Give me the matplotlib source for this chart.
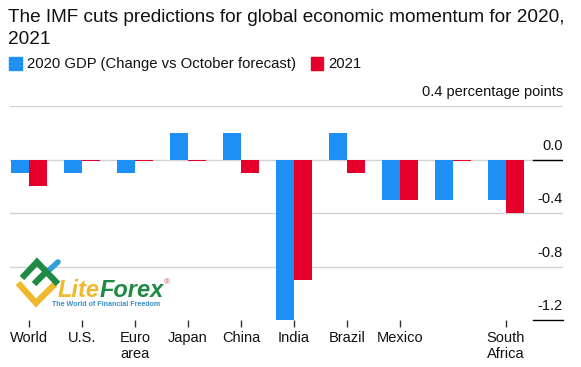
import matplotlib.pyplot as plt
from matplotlib.patches import Patch

plt.rcParams['font.family'] = ['Liberation Sans', 'DejaVu Sans']

countries = ['World', 'U.S.', 'Euro\narea', 'Japan', 'China', 'India', 'Brazil', 'Mexico', '', 'South\nAfrica']
gdp2020 = [-0.1, -0.1, -0.1, 0.2, 0.2, -1.2, 0.2, -0.3, -0.3, -0.3]
gdp2021 = [-0.2, -0.01, -0.01, -0.01, -0.1, -0.9, -0.1, -0.3, -0.01, -0.4]
ylabels = ['0.0', '-0.4', '-0.8', '-1.2']
yvals = [0.0, -0.4, -0.8, -1.2]
gridvals = [0.4, 0.0, -0.4, -0.8]

blue = '#1e8ff5'
red = '#e4002b'
W = 581
H = 367

fig = plt.figure(figsize=(W/100, H/100), dpi=100)
ax = fig.add_axes([10/W, 1-320/H, 553/W, 214/H])

x = list(range(len(countries)))
w = 0.345
for v in gridvals:
    ax.axhline(v, color='#d2d2d2', lw=1, zorder=1)
ax.bar([i-w/2 for i in x], gdp2020, w, color=blue, zorder=2)
ax.bar([i+w/2 for i in x], gdp2021, w, color=red, zorder=2)
ax.set_xlim(-0.358, 10.076)
ax.set_ylim(-1.2, 0.4)
for s in ax.spines.values():
    s.set_visible(False)
ax.set_yticks([])
ax.set_xticks([i for i in x if countries[i]])
ax.set_xticklabels([c for c in countries if c], fontsize=10.5, linespacing=1.2)
ax.tick_params(axis='x', length=5, width=1, color='#333333', pad=3, labelcolor='#111111')

# value labels sit above their line, at the right edge
tr = ax.get_yaxis_transform()
for lab, v in zip(ylabels, yvals):
    ax.annotate(lab, (1, v), xycoords=tr, xytext=(0, 5), textcoords='offset points',
                ha='right', va='bottom', fontsize=10.5, color='#111111')
ax.plot([0.945, 1], [0, 0], transform=tr, color='black', lw=1, zorder=3)
ax.plot([0.945, 1], [-1.2, -1.2], transform=tr, color='black', lw=1, zorder=3, clip_on=False)

fig.text(8/W, 1-22/H, 'The IMF cuts predictions for global economic momentum for 2020,',
         fontsize=13.7, color='#111111', va='baseline')
fig.text(8/W, 1-44/H, '2021', fontsize=13.7, color='#111111', va='baseline')
fig.text(563/W, 1-96/H, '0.4 percentage points', fontsize=10.5, ha='right', va='baseline', color='#111111')

fig.legend(handles=[Patch(color=blue, label='2020 GDP (Change vs October forecast)'),
                    Patch(color=red, label='2021')],
           loc='center left', bbox_to_anchor=(9/W, 1-64/H), ncol=2, frameon=False,
           fontsize=10.7, handlelength=0.85, handleheight=0.95, handletextpad=0.35,
           columnspacing=1.0, borderpad=0, borderaxespad=0, labelcolor='#111111')

# logo, in image pixels
lg = fig.add_axes([0, 0, 1, 1], facecolor='none')
lg.set_xlim(0, W)
lg.set_ylim(H, 0)
lg.axis('off')
lg.plot([47, 58], [272, 262], color='#2f9fd8', lw=4, solid_capstyle='round')
lg.plot([18, 36, 55], [283, 303, 284], color='#f0b92d', lw=4.5, solid_capstyle='butt', solid_joinstyle='miter')
lg.plot([22, 37, 58], [278, 262, 284], color='#1f8a43', lw=4.5, solid_capstyle='butt', solid_joinstyle='miter')
lg.plot([34, 47], [284, 271], color='#1f8a43', lw=4.5, solid_capstyle='butt')
lg.text(58, 297, 'Lite', fontsize=17, fontweight='bold', style='italic', color='#f0b92d', va='baseline')
lg.text(100, 297, 'Forex', fontsize=17, fontweight='bold', style='italic', color='#1f8a43', va='baseline')
lg.text(167, 283, '®', fontsize=6, color='#c0504d', va='center', ha='center')
lg.text(52, 306, 'The World of Financial Freedom', fontsize=5.15, fontweight='bold', color='#3b8fc4', va='baseline')

fig.savefig('out.png', dpi=100)
